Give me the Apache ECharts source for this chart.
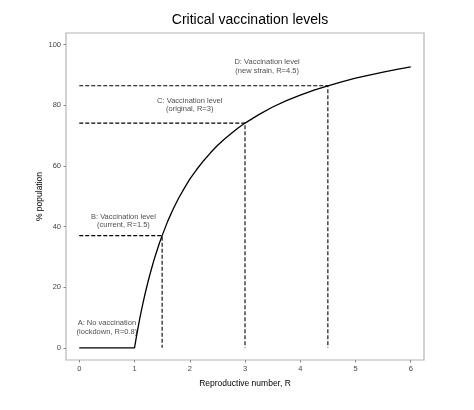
<!DOCTYPE html>
<html><head><meta charset="utf-8">
<script src="https://cdn.jsdelivr.net/npm/echarts@6/dist/echarts.min.js"></script>
<style>html,body{margin:0;padding:0;background:#fff}#c{width:474px;height:410px}</style>
</head><body><div id="c"></div>
<script>
var curveR = [0, 1, 1.05, 1.1, 1.15, 1.2, 1.25, 1.3, 1.35, 1.4, 1.45, 1.5, 1.6, 1.7, 1.8, 1.9, 2, 2.125, 2.25, 2.375, 2.5, 2.625, 2.75, 2.875, 3, 3.25, 3.5, 3.75, 4, 4.25, 4.5, 4.75, 5, 5.25, 5.5, 5.75, 6];
var curveV = [0, 0, 5.3, 10.1, 14.5, 18.5, 22.2, 25.6, 28.8, 31.7, 34.5, 37, 41.7, 45.8, 49.4, 52.6, 55.6, 58.8, 61.7, 64.3, 66.7, 68.8, 70.7, 72.5, 74.1, 76.9, 79.4, 81.5, 83.3, 85.0, 86.4, 87.7, 88.9, 89.9, 90.9, 91.8, 92.6];
var levelR = [1.5, 3, 4.5];
var levelV = [37, 74.1, 86.4];
var labelText = ["A: No vaccination\n(lockdown, R=0.8)", "B: Vaccination level\n(current, R=1.5)", "C: Vaccination level\n(original, R=3)", "D: Vaccination level\n(new strain, R=4.5)"];
var labelR = [0.5, 0.8, 2.0, 3.4];
var labelV = [6.7, 41.8, 80, 92.8];
var xTicks = [0, 1, 2, 3, 4, 5, 6];
var yTicks = [0, 20, 40, 60, 80, 100];

var chart = echarts.init(document.getElementById('c'));
var font = 'Liberation Sans, Arial, sans-serif';
var series = [];
series.push({
  type: 'line', data: curveR.map(function(r, i){ return [r, curveV[i]]; }),
  showSymbol: false, symbol: 'none', lineStyle: {color: '#000', width: 1.3}, z: 5, silent: true
});
levelR.forEach(function(r, i){
  series.push({
    type: 'line', data: [[0, levelV[i]], [r, levelV[i]], [r, 0]],
    showSymbol: false, symbol: 'none', lineStyle: {color: '#000', width: 1.1, type: [4, 2]}, silent: true
  });
});
series.push({
  type: 'scatter', symbolSize: 0, silent: true,
  data: labelR.map(function(r, i){ return {value: [r, labelV[i]], name: labelText[i]}; }),
  label: {show: true, position: 'inside', formatter: function(p){ return p.name; },
    color: '#1a1a1a', fontSize: 7.5, lineHeight: 8.3, fontFamily: font, align: 'center', verticalAlign: 'middle'}
});

chart.setOption({
  animation: false,
  title: {text: 'Critical vaccination levels', left: 245, top: 8, textAlign: 'center',
    textStyle: {fontSize: 14, fontWeight: 'normal', color: '#000', fontFamily: font}},
  grid: {left: 66, right: 50, top: 33, bottom: 50, show: true, borderColor: '#b5b5b5', borderWidth: 1.2},
  xAxis: {
    type: 'value', min: -0.24, max: 6.24,
    name: 'Reproductive number, R', nameLocation: 'middle', nameGap: 19, nameMoveOverlap: false,
    nameTextStyle: {fontSize: 8.5, color: '#000', fontFamily: font},
    axisLine: {show: false, onZero: false},
    axisTick: {show: true, length: 2.5, lineStyle: {color: '#888'}, customValues: xTicks},
    axisLabel: {color: '#444', fontSize: 7.5, fontFamily: font, margin: 5, customValues: xTicks},
    splitLine: {show: false}
  },
  yAxis: {
    type: 'value', min: -4, max: 103.8,
    name: '% population', nameLocation: 'middle', nameGap: 22, nameMoveOverlap: false,
    nameTextStyle: {fontSize: 8.5, color: '#000', fontFamily: font},
    axisLine: {show: false, onZero: false},
    axisTick: {show: true, length: 2.5, lineStyle: {color: '#888'}, customValues: yTicks},
    axisLabel: {color: '#444', fontSize: 7.5, fontFamily: font, margin: 5, customValues: yTicks},
    splitLine: {show: false}
  },
  series: series
});
</script></body></html>
